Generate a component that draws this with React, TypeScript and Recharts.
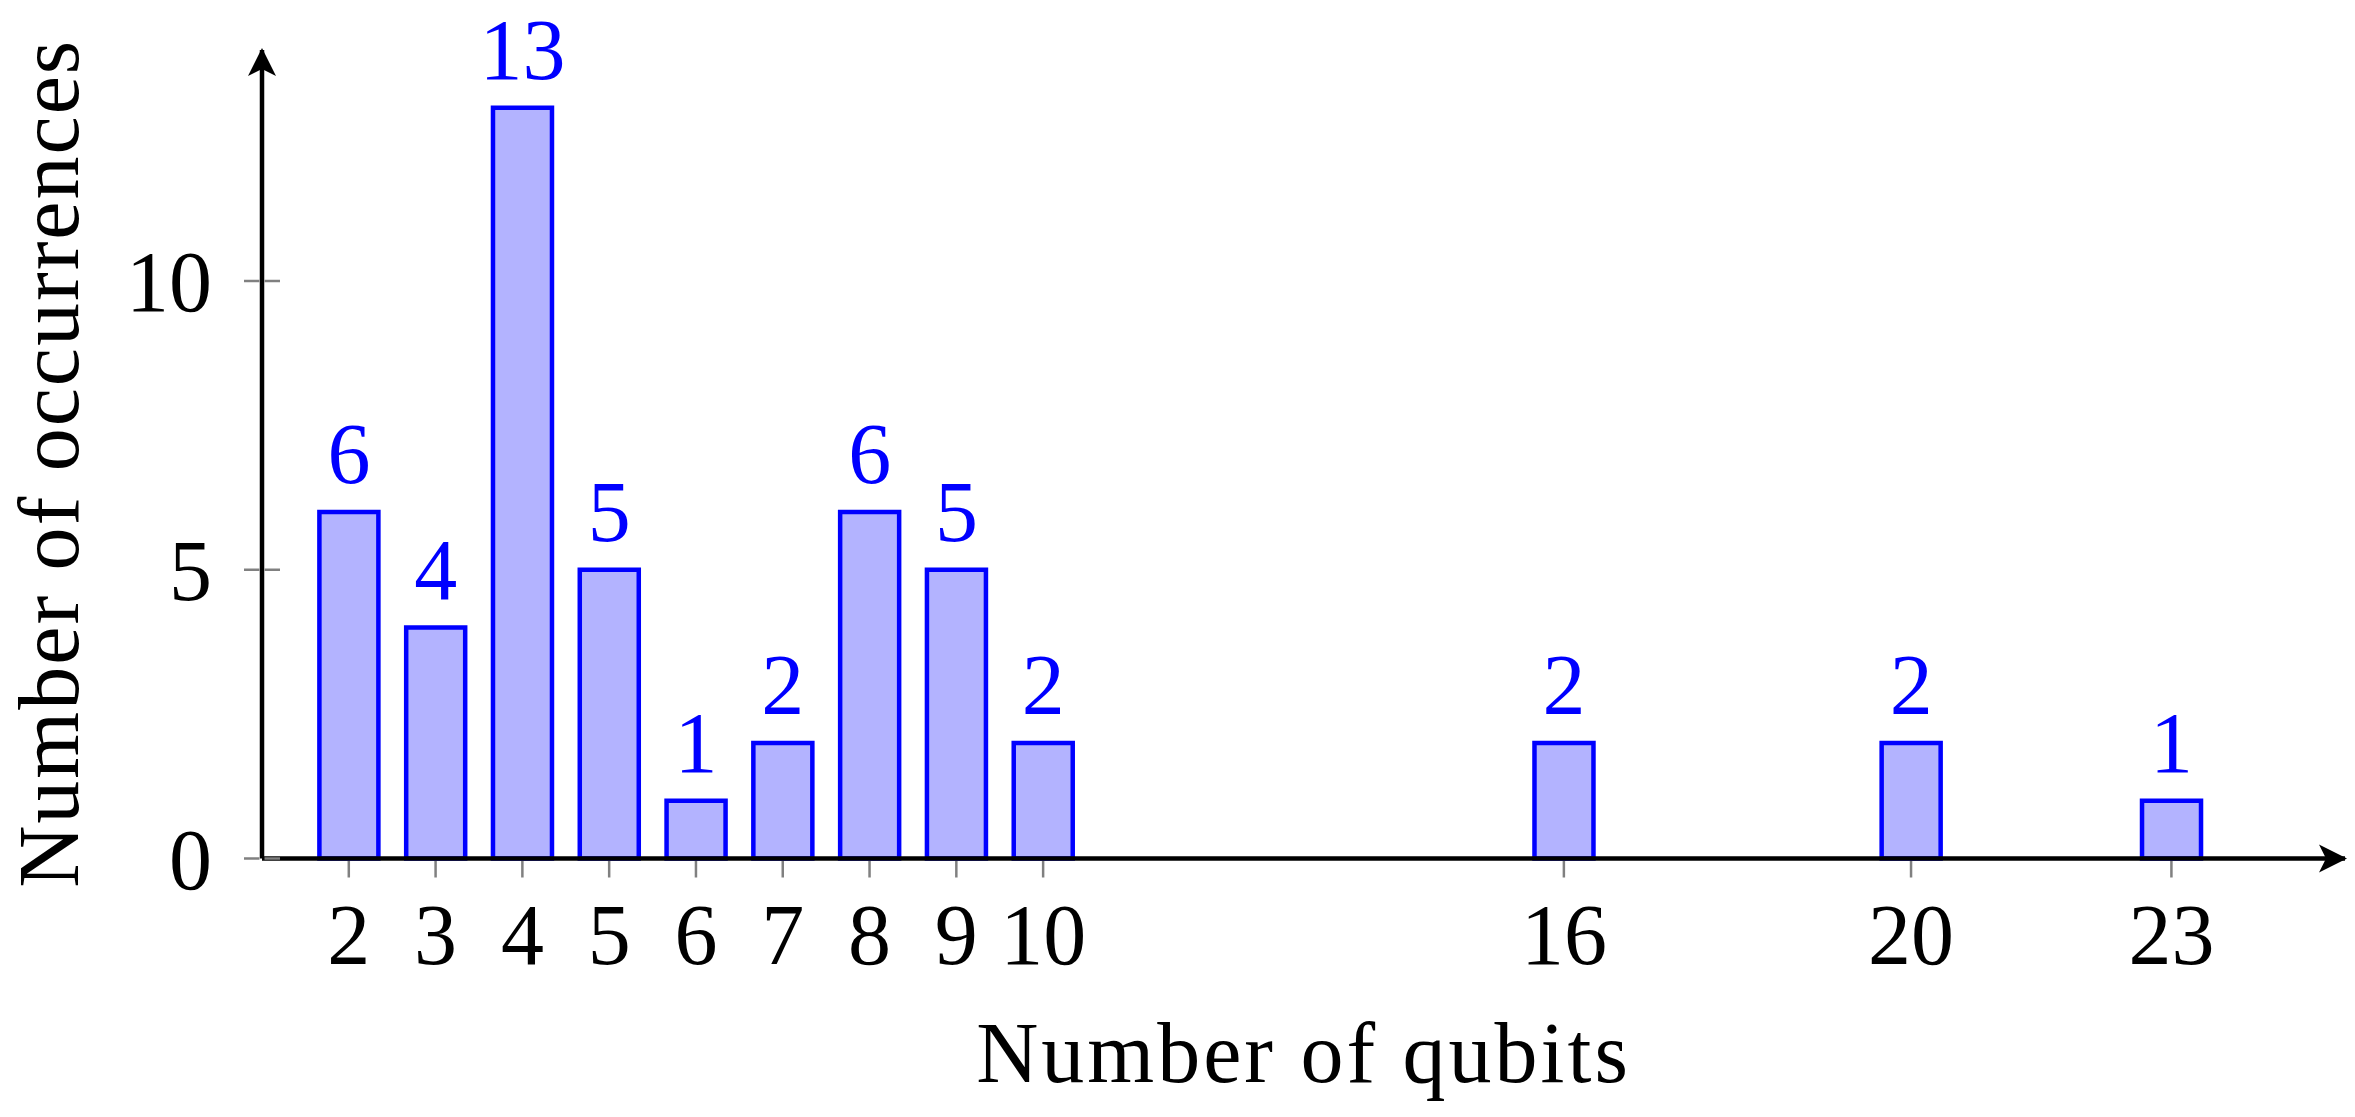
import React from 'react';
import { ComposedChart, Bar, XAxis, YAxis, LabelList, Label } from 'recharts';

const qubits = [2, 3, 4, 5, 6, 7, 8, 9, 10, 16, 20, 23];
const occurrences = [6, 4, 13, 5, 1, 2, 6, 5, 2, 2, 2, 1];
const yTicks = [0, 5, 10];
const xTitle = 'Number of qubits';
const yTitle = 'Number of occurrences';

const data = qubits.map((q, i) => ({ x: q, y: occurrences[i] }));

const FONT = '"Liberation Serif", "Times New Roman", serif';
const FS = 86;
const BLUE = '#0000ff';
const FILL = '#b3b3ff';
const GRAY = '#808080';

const XTick = (props: any) => {
  const { x, y, payload } = props;
  return (
    <g>
      <line x1={x} x2={x} y1={y + 2.5} y2={y + 19} stroke={GRAY} strokeWidth={2.5} />
      <text x={x} y={y + 105} textAnchor="middle" fontFamily={FONT} fontSize={FS} fill="#000">
        {payload.value}
      </text>
    </g>
  );
};

const YTick = (props: any) => {
  const { x, y, payload } = props;
  return (
    <g>
      <line x1={x - 18} x2={x - 2.5} y1={y} y2={y} stroke={GRAY} strokeWidth={2.5} />
      <line x1={x + 2.5} x2={x + 18} y1={y} y2={y} stroke={GRAY} strokeWidth={2.5} />
      <text x={x - 50} y={y + 30} textAnchor="end" fontFamily={FONT} fontSize={FS} fill="#000">
        {payload.value}
      </text>
    </g>
  );
};

const BarValue = (props: any) => {
  const { x, y, width, value } = props;
  return (
    <text x={x + width / 2} y={y - 29} textAnchor="middle" fontFamily={FONT} fontSize={FS} fill={BLUE}>
      {value}
    </text>
  );
};

const XTitle = (props: any) => {
  const vb = props.viewBox;
  return (
    <text
      x={vb.x + vb.width / 2}
      y={vb.y + 223}
      textAnchor="middle"
      fontFamily={FONT}
      fontSize={FS}
      letterSpacing={3}
      fill="#000"
    >
      {xTitle}
    </text>
  );
};

const YTitle = (props: any) => {
  const vb = props.viewBox;
  const cx = vb.x + 78;
  const cy = vb.y + vb.height / 2 + 9;
  return (
    <text
      x={cx}
      y={cy}
      transform={`rotate(-90 ${cx} ${cy})`}
      textAnchor="middle"
      fontFamily={FONT}
      fontSize={FS}
      letterSpacing={2}
      fill="#000"
    >
      {yTitle}
    </text>
  );
};

export default function App() {
  return (
    <div style={{ position: 'absolute', left: 0, top: 0, width: 2355, height: 1117, background: '#fff' }}>
      <svg width={0} height={0} style={{ position: 'absolute' }}>
        <defs>
          <marker
            id="arrowHead"
            viewBox="0 0 30 30"
            markerWidth={30}
            markerHeight={30}
            refX={27}
            refY={15}
            orient="auto-start-reverse"
            markerUnits="userSpaceOnUse"
          >
            <path d="M1,1 L29,15 L1,29 L8,15 Z" fill="#000" />
          </marker>
        </defs>
      </svg>
      <ComposedChart
        width={2355}
        height={1117}
        data={data}
        margin={{ top: 50, right: 10, bottom: 0, left: 0 }}
      >
        <XAxis
          type="number"
          dataKey="x"
          domain={[1, 25]}
          ticks={qubits}
          interval={0}
          height={258.5}
          tickSize={0}
          tickMargin={0}
          tickLine={false}
          tick={<XTick />}
          axisLine={{ stroke: '#000', strokeWidth: 4.5, markerEnd: 'url(#arrowHead)' }}
          allowDecimals={false}
        >
          <Label content={<XTitle />} />
        </XAxis>
        <YAxis
          type="number"
          domain={[0, 14]}
          ticks={yTicks}
          interval={0}
          width={262}
          tickSize={0}
          tickMargin={0}
          tickLine={false}
          tick={<YTick />}
          axisLine={{ stroke: '#000', strokeWidth: 4.5, markerStart: 'url(#arrowHead)' }}
        >
          <Label content={<YTitle />} />
        </YAxis>
        <Bar
          dataKey="y"
          barSize={59}
          fill={FILL}
          stroke={BLUE}
          strokeWidth={4.5}
          isAnimationActive={false}
        >
          <LabelList dataKey="y" content={<BarValue />} />
        </Bar>
      </ComposedChart>
    </div>
  );
}
